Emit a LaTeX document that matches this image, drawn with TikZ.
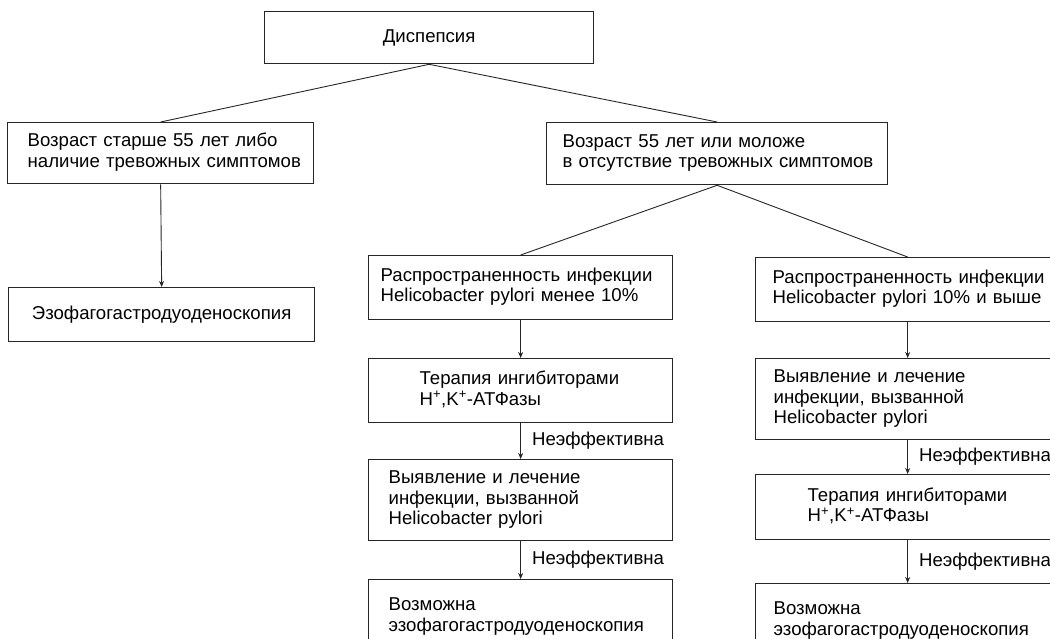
\documentclass[tikz,border=0pt]{standalone}
\usepackage{fontspec}
\setmainfont{Liberation Sans}
\usepackage{tikz}
\usetikzlibrary{calc, positioning, arrows.meta}
\tikzstyle{box}=[draw=black!85, line width=1.3pt, anchor=north west, inner sep=0pt, align=left, font=\fontsize{18.6}{20.5}\selectfont, text=black]
\tikzstyle{cbox}=[box, align=center]
\tikzstyle{edge}=[draw=black!85, line width=0.9pt]
\tikzstyle{lbl}=[anchor=west, inner sep=0pt, xshift=11pt, font=\fontsize{18.6}{20.5}\selectfont, text=black]
\tikzset{>={Stealth[length=6pt, width=5pt]}}
\newcommand{\bt}[2]{\hspace*{#1pt}\begin{tabular}{@{}l@{}}#2\end{tabular}}
\newcommand{\hk}{H\textsuperscript{+},K\textsuperscript{+}-АТФазы}

\begin{document}
\begin{tikzpicture}[x=1pt, y=-1pt]
\useasboundingbox (0,0) rectangle (1050,639);
\clip (0,0) rectangle (1050,639);
% top level
\node[cbox, text width=329pt, minimum height=52pt] (dysp) at (264,11) {Диспепсия};
\node[box, text width=306pt, minimum height=61pt] (old) at (7,122) {\bt{20}{Возраст старше 55 лет либо\\наличие тревожных симптомов}};
\node[box, text width=341pt, minimum height=62pt] (young) at (546,122) {\bt{16}{Возраст 55 лет или моложе\\в отсутствие тревожных симптомов}};
\node[cbox, text width=306pt, minimum height=54pt] (egd) at (8,287) {Эзофагогастродуоденоскопия};
% prevalence < 10%
\node[box, text width=304pt, minimum height=64pt] (m1) at (368,255) {\bt{12}{Распространенность инфекции\\Helicobacter pylori менее 10\%}};
\node[box, text width=304pt, minimum height=64pt] (m2) at (368,358) {\bt{51}{Терапия ингибиторами\\\hk}};
\node[box, text width=304pt, minimum height=81pt] (m3) at (368,459) {\bt{20}{Выявление и лечение\\инфекции, вызванной\\Helicobacter pylori}};
\node[box, text width=304pt, minimum height=74pt] (m4) at (368,579) {\bt{20}{Возможна\\эзофагогастродуоденоскопия}};
% prevalence >= 10%
\node[box, text width=304pt, minimum height=64pt] (r1) at (755,257) {\bt{17}{Распространенность инфекции\\Helicobacter pylori 10\% и выше}};
\node[box, text width=304pt, minimum height=81pt] (r2) at (755,358) {\bt{18}{Выявление и лечение\\инфекции, вызванной\\Helicobacter pylori}};
\node[box, text width=304pt, minimum height=65pt] (r3) at (755,474) {\bt{52}{Терапия ингибиторами\\\hk}};
\node[box, text width=304pt, minimum height=74pt] (r4) at (755,583) {\bt{18}{Возможна\\эзофагогастродуоденоскопия}};

\draw[edge] (dysp.south) -- (old.north);
\draw[edge] (dysp.south) -- (young.north);
\draw[edge, ->] (old.south) -- (egd.north);
\draw[edge] (young.south) -- (m1.north);
\draw[edge] (young.south) -- (r1.north);

\draw[edge, ->] (m1) -- (m2);
\draw[edge, ->] (m2) -- node[lbl, midway] (n1) {Неэффективна} (m3);
\draw[edge, ->] (m3) -- node[lbl, midway] (n2) {Неэффективна} (m4);
\draw[edge, ->] (r1) -- (r2);
\draw[edge, ->] (r2) -- node[lbl, midway] (n3) {Неэффективна} (r3);
\draw[edge, ->] (r3) -- node[lbl, midway] (n4) {Неэффективна} (r4);
\end{tikzpicture}
\end{document}
